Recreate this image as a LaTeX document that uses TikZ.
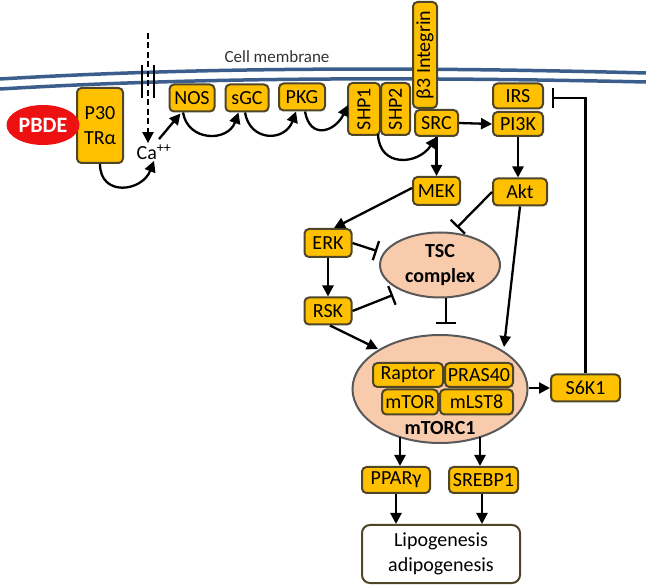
\documentclass[tikz,border=0pt]{standalone}
\usepackage{fontspec}
\setmainfont{Carlito}
\usetikzlibrary{arrows.meta,shapes.geometric,calc}
\definecolor{gold}{HTML}{FFC000}
\definecolor{boxline}{HTML}{4F4628}
\definecolor{peach}{HTML}{F8CBAD}
\definecolor{ellline}{HTML}{595959}
\definecolor{memb}{HTML}{3B5E8C}
\definecolor{pbdered}{HTML}{EE1111}
\newcommand{\nfs}{\fontsize{20}{25}\selectfont}
\newcommand{\sfs}{\fontsize{17}{20}\selectfont}
\tikzset{
  gbox/.style={draw=boxline, fill=gold, rounded corners=4.5pt, line width=2pt, inner sep=0pt, font=\nfs},
  cplx/.style={ellipse, draw=ellline, fill=peach, line width=2pt, inner sep=0pt},
  arr/.style={-{Triangle[length=11pt,width=11pt]}, line width=2.3pt},
  inh/.style={-{Bar[width=20pt]}, line width=2.3pt},
}
\begin{document}
\begin{tikzpicture}[x=1pt,y=-1pt]
\useasboundingbox (0,0) rectangle (646,585);
\fill[white] (0,0) rectangle (646,585);
% membrane
\draw[memb, line width=3.5pt] (0,79) .. controls (200,67) and (420,67) .. (646,73);
\draw[memb, line width=3.5pt] (0,89) .. controls (200,77) and (420,77) .. (646,82);
\node[font=\sfs, text=black!80] (memlab) at (277,57) {Cell membrane};
% channel
\draw[line width=2.6pt] (142,65) -- (142,98);
\draw[line width=2.6pt] (154,65) -- (154,98);
\coordinate (chtop) at (148,33);
% nodes
\node[gbox, minimum width=46, minimum height=75, align=center] (p30) at (100,125.5) {P30\\TRα};
\node[ellipse, fill=pbdered, minimum width=73, minimum height=40, inner sep=0pt, text=white, font=\fontsize{22}{24}\selectfont\bfseries] (pbde) at (43,125) {PBDE};
\node[font=\nfs, inner sep=1pt] (ca) at (154,152) {Ca\textsuperscript{++}};
\node[gbox, minimum width=45, minimum height=27] (nos) at (192,98) {NOS};
\node[gbox, minimum width=43, minimum height=27] (sgc) at (247,98) {sGC};
\node[gbox, minimum width=46, minimum height=27] (pkg) at (302,97) {PKG};
\node[gbox, rotate=90, minimum width=52, minimum height=32] (shp1) at (364,109) {SHP1};
\node[gbox, rotate=90, minimum width=52, minimum height=29] (shp2) at (395.5,109) {SHP2};
\node[gbox, rotate=90, minimum width=106, minimum height=24] (integ) at (425,55) {β3 Integrin};
\node[gbox, minimum width=43, minimum height=26] (src) at (436.5,123) {SRC};
\node[gbox, minimum width=50, minimum height=25] (irs) at (518,96) {IRS};
\node[gbox, minimum width=50, minimum height=24] (pi3k) at (518,124) {PI3K};
\node[gbox, minimum width=47, minimum height=28] (mek) at (436.5,191) {MEK};
\node[gbox, minimum width=54, minimum height=27] (akt) at (520,192) {Akt};
\node[gbox, minimum width=47, minimum height=28] (erk) at (328,243) {ERK};
\node[gbox, minimum width=47, minimum height=27] (rsk) at (328,311) {RSK};
\node[cplx, minimum width=120, minimum height=65, align=center, font=\nfs\bfseries] (tsc) at (440,265) {TSC\\complex};
\node[cplx, minimum width=175, minimum height=108] (mtorc1) at (440,389) {};
\node[gbox, minimum width=70, minimum height=24] (raptor) at (408,375) {Raptor};
\node[gbox, minimum width=68, minimum height=24] (pras) at (479,375) {PRAS40};
\node[gbox, minimum width=56, minimum height=25] (mtor) at (410,402) {mTOR};
\node[gbox, minimum width=73, minimum height=25] (mlst) at (476.5,402) {mLST8};
\node[font=\nfs\bfseries, inner sep=0pt] (m1lab) at (440,428) {mTORC1};
\node[gbox, minimum width=69, minimum height=27] (s6k1) at (585.5,388) {S6K1};
\node[gbox, minimum width=68, minimum height=26] (ppar) at (396,480) {PPARγ};
\node[gbox, minimum width=69, minimum height=26] (srebp) at (483.5,480) {SREBP1};
\node[draw=boxline, fill=white, rounded corners=8pt, line width=2pt, minimum width=158, minimum height=58, align=center, font=\nfs] (lipo) at (441,554) {Lipogenesis\\adipogenesis};
% edges
\draw[arr, dashed, dash pattern=on 6pt off 3.5pt] (chtop) -- (chtop |- ca.north);
\draw[arr] (p30.south) .. controls (100,197) and (142,192) .. (ca.south);
\draw[arr] ($(ca.north)+(5,-4)$) -- ($(nos.south west)+(12,1)$);
\draw[arr] ($(nos.south)+(-9,0)$) .. controls (188,142) and (228,142) .. ($(sgc.south west)+(14,0)$);
\draw[arr] ($(sgc.south)+(-2,0)$) .. controls (250,142) and (285,142) .. ($(pkg.south west)+(18,0)$);
\draw[arr] ($(pkg.south)+(3,0)$) .. controls (310,140) and (335,132) .. ($(shp1.center)+(-16,-4)$);
\draw[arr] ($(shp1.center)+(14,25)$) .. controls (379,168) and (418,165) .. (src.south);
\draw[arr] (src.south) -- (mek.north);
\draw[arr] (src.east) -- (pi3k.west);
\draw[arr] (pi3k.south) -- (pi3k.south |- akt.north);
\draw[arr] ($(mek.west)+(0,-3)$) -- ($(erk.north)+(6,0)$);
\draw[inh] (akt.west) -- ($(tsc.north)+(17,-4)$);
\draw[inh] (erk.east) -- ($(tsc.west)+(-2,-14)$);
\draw[inh] (rsk.east) -- ($(tsc.center)+(-47,30)$);
\draw[arr] (erk.south) -- (rsk.north);
\draw[inh] ($(tsc.south)+(6,0)$) -- ($(mtorc1.north)+(6,-10)$);
\draw[arr] (akt.south) -- ($(mtorc1.center)+(64,-42)$);
\draw[arr] ($(rsk.south)+(2,0)$) -- ($(mtorc1.center)+(-62,-40)$);
\draw[arr] (s6k1.west -| mtorc1.east) -- (s6k1.west);
\draw[inh] (s6k1.north) |- ($(irs.east)+(8,2)$);
\draw[arr] ($(mtorc1.center)+(-40,48)$) -- ($(ppar.north)+(4,0)$);
\draw[arr] ($(mtorc1.center)+(40,48)$) -- ($(srebp.north)+(-3.5,0)$);
\draw[arr] (ppar.south) -- (ppar.south |- lipo.north);
\draw[arr] ($(srebp.south)+(-1.5,0)$) -- ($(srebp.south |- lipo.north)+(-1.5,0)$);
\end{tikzpicture}
\end{document}
